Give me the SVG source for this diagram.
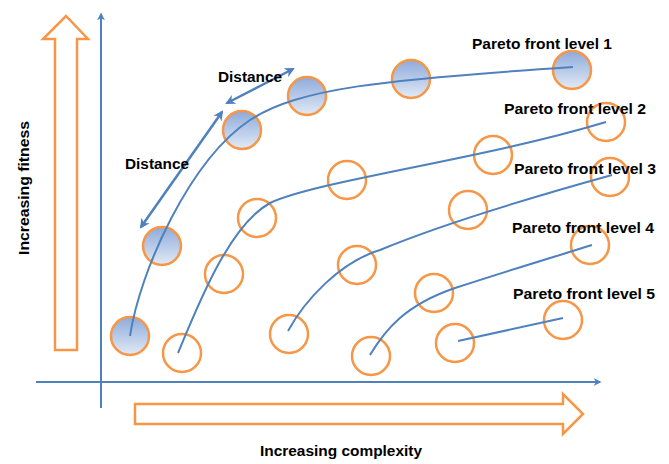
<svg xmlns="http://www.w3.org/2000/svg" width="669" height="464" viewBox="0 0 669 464">
<defs>
<linearGradient id="fillg" x1="0" y1="0" x2="0" y2="1">
<stop offset="0" stop-color="#8eaadb"/>
<stop offset="1" stop-color="#e2eaf5"/>
</linearGradient>
<marker id="ah" viewBox="0 0 10 10" refX="8" refY="5" markerWidth="4" markerHeight="4" orient="auto-start-reverse">
<path d="M0,0 L10,5 L0,10 L3,5 Z" fill="#4f81bd"/>
</marker>
</defs>
<style>
.ax{stroke:#4f81bd;stroke-width:2;fill:none}
.big{fill:#fff;stroke:#f79646;stroke-width:2.5}
.c{stroke:#f79646;stroke-width:2.5;fill:#fff}
.f{stroke:#f79646;stroke-width:2.5;fill:url(#fillg)}
.cv{stroke:#4f81bd;stroke-width:2;fill:none}
.da{stroke:#4f81bd;stroke-width:2.5;fill:none}
text{font-family:"Liberation Sans",Arial,sans-serif;font-weight:bold;font-size:14px;fill:#000}
</style>
<g id="axes">
<path class="ax" d="M101,408 V14" marker-end="url(#ah)"/>
<path class="ax" d="M36,382 H600" marker-end="url(#ah)"/>
</g>
<g id="fitness-arrow">
<path class="big" d="M55,350 V39 H43 L66,16 L88,39 H77 V350 Z"/>
<text transform="translate(29,188) rotate(-90)" text-anchor="middle" textLength="134" lengthAdjust="spacingAndGlyphs">Increasing fitness</text>
</g>
<g id="complexity-arrow">
<path class="big" d="M135,404 H563 V394 L583,414 L563,434 V424 H135 Z"/>
<text x="341" y="456" text-anchor="middle" textLength="162" lengthAdjust="spacingAndGlyphs">Increasing complexity</text>
</g>
<g id="level1">
<circle class="f" cx="130" cy="336" r="19"/>
<circle class="f" cx="162" cy="246" r="19"/>
<circle class="f" cx="242" cy="130" r="19"/>
<circle class="f" cx="307" cy="96" r="19"/>
<circle class="f" cx="411" cy="79" r="19"/>
<circle class="f" cx="572" cy="70" r="19"/>
<text x="542" y="49" text-anchor="middle" textLength="140" lengthAdjust="spacingAndGlyphs">Pareto front level 1</text>
</g>
<g id="level2">
<circle class="c" cx="182" cy="353" r="19"/>
<circle class="c" cx="224" cy="274" r="19"/>
<circle class="c" cx="257" cy="218" r="19"/>
<circle class="c" cx="347" cy="180" r="19"/>
<circle class="c" cx="493" cy="155" r="19"/>
<circle class="c" cx="606" cy="122" r="19"/>
<text x="575" y="114" text-anchor="middle" textLength="142" lengthAdjust="spacingAndGlyphs">Pareto front level 2</text>
</g>
<g id="level3">
<circle class="c" cx="289" cy="334" r="19"/>
<circle class="c" cx="357" cy="265" r="19"/>
<circle class="c" cx="468" cy="210" r="19"/>
<circle class="c" cx="610" cy="177" r="19"/>
<text x="585" y="174" text-anchor="middle" textLength="142" lengthAdjust="spacingAndGlyphs">Pareto front level 3</text>
</g>
<g id="level4">
<circle class="c" cx="371" cy="356" r="19"/>
<circle class="c" cx="434" cy="293" r="19"/>
<circle class="c" cx="590" cy="245" r="19"/>
<text x="583" y="233" text-anchor="middle" textLength="142" lengthAdjust="spacingAndGlyphs">Pareto front level 4</text>
</g>
<g id="level5">
<circle class="c" cx="455" cy="343" r="19"/>
<circle class="c" cx="563" cy="320" r="19"/>
<text x="584" y="299" text-anchor="middle" textLength="142" lengthAdjust="spacingAndGlyphs">Pareto front level 5</text>
</g>
<g id="connectors">
<path class="cv" d="M130,336 C140,270 190,160 250,120 C300,88 380,80 573,67"/>
<path class="cv" d="M178,353 C200,300 230,225 270,203 C320,180 480,160 606,122"/>
<path class="cv" d="M288,331 C305,300 340,262 380,250 C440,225 540,195 612,175"/>
<path class="cv" d="M370,355 C385,330 405,305 455,288 C510,270 560,255 592,245"/>
<path class="cv" d="M458,341 L563,318"/>
<path class="da" d="M227,103 L293,69" marker-start="url(#ah)" marker-end="url(#ah)"/>
<path class="da" d="M222,112 L141,227" marker-start="url(#ah)" marker-end="url(#ah)"/>
</g>
<g id="labels">
<text x="250" y="82" text-anchor="middle" textLength="64" lengthAdjust="spacingAndGlyphs">Distance</text>
<text x="157" y="169" text-anchor="middle" textLength="64" lengthAdjust="spacingAndGlyphs">Distance</text>
</g>
</svg>
